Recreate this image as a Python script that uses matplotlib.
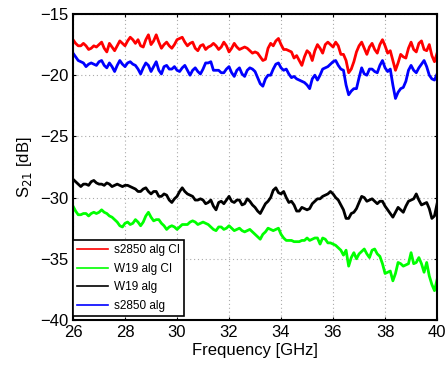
import numpy as np
import matplotlib
matplotlib.use("Agg")
import matplotlib.pyplot as plt

plt.rcParams['font.family'] = ['Liberation Sans', 'DejaVu Sans']

# frequency grid, 0.1 GHz steps from 26 to 40 GHz
freq = np.round(np.arange(26.0, 40.05, 0.1), 1)

# S21 in dB
s2850_ci = [
    -17.1, -17.4, -17.6, -17.6, -17.4, -17.6, -17.9, -17.8, -17.6, -17.7,
    -17.5, -17.3, -17.8, -18.1, -17.4, -17.7, -18.0, -17.6, -17.2, -17.4,
    -17.6, -17.2, -16.9, -17.1, -17.4, -17.1, -17.6, -17.7, -17.1, -16.7,
    -17.5, -17.2, -16.7, -17.3, -17.8, -17.5, -17.3, -17.6, -17.8, -17.5,
    -17.1, -17.0, -16.9, -17.3, -17.6, -17.4, -17.3, -17.8, -18.0, -17.6,
    -17.5, -17.9, -17.7, -17.6, -17.4, -17.6, -17.9, -17.7, -17.3, -17.6,
    -18.1, -17.8, -17.4, -17.7, -17.9, -17.8, -17.7, -17.8, -18.0, -18.2,
    -18.1, -18.2, -18.5, -18.8, -18.7, -17.8, -17.4, -17.6, -17.2, -17.0,
    -17.5, -17.9, -17.9, -18.0, -18.1, -18.6, -18.4, -18.8, -19.2, -18.5,
    -18.0, -18.2, -18.8, -18.0, -17.5, -17.8, -18.2, -17.5, -17.3, -17.5,
    -17.7, -17.3, -17.6, -18.3, -18.3, -18.8, -19.8, -19.5, -18.9, -18.1,
    -17.6, -17.3, -17.8, -18.3, -17.7, -17.4, -17.9, -18.2, -17.5, -17.1,
    -17.6, -18.2, -18.0, -18.8, -19.6, -19.0, -18.3, -18.5, -18.6, -17.8,
    -17.3, -17.9, -18.1, -17.4, -17.2, -17.9, -18.0, -17.5, -18.4, -18.9,
    -18.2]

w19_ci = [
    -30.7, -31.1, -31.4, -31.4, -31.3, -31.3, -31.5, -31.3, -31.2, -31.3,
    -31.2, -31.0, -31.2, -31.3, -31.5, -31.6, -31.8, -32.0, -32.3, -32.4,
    -32.1, -32.0, -32.2, -32.1, -31.8, -32.0, -32.3, -32.0, -31.5, -31.2,
    -31.6, -31.9, -31.8, -31.8, -32.1, -32.3, -32.6, -32.4, -32.3, -32.4,
    -32.6, -32.4, -32.2, -32.2, -32.2, -32.0, -31.9, -32.0, -32.2, -32.1,
    -32.0, -32.1, -32.2, -32.4, -32.6, -32.7, -32.4, -32.4, -32.6, -32.5,
    -32.3, -32.5, -32.7, -32.6, -32.5, -32.7, -32.8, -32.7, -32.6, -32.8,
    -33.0, -33.2, -33.4, -33.0, -32.8, -32.5, -32.6, -32.7, -32.6, -32.5,
    -33.0, -33.3, -33.5, -33.5, -33.5, -33.6, -33.6, -33.6, -33.5, -33.5,
    -33.3, -33.5, -33.4, -33.3, -33.3, -33.8, -33.3, -33.4, -33.7, -33.7,
    -33.8, -33.9, -34.1, -34.3, -34.7, -34.3, -35.6, -34.9, -34.5, -35.0,
    -34.6, -34.4, -34.2, -34.6, -34.9, -34.3, -34.2, -34.6, -34.8, -35.4,
    -36.2, -36.1, -36.0, -36.8, -36.2, -35.3, -35.4, -35.6, -35.5, -35.4,
    -34.5, -35.4, -35.3, -34.9, -35.4, -36.1, -35.3, -36.4, -37.1, -37.6,
    -36.7]

w19 = [
    -28.5, -28.7, -28.9, -29.1, -28.9, -28.9, -29.0, -28.7, -28.6, -28.8,
    -28.9, -28.9, -29.0, -28.8, -28.9, -29.1, -29.0, -28.9, -29.0, -29.1,
    -29.0, -29.0, -29.1, -29.2, -29.3, -29.5, -29.5, -29.3, -29.2, -29.5,
    -29.7, -29.5, -29.5, -29.9, -29.9, -29.7, -29.8, -30.2, -30.4, -30.1,
    -29.9, -29.5, -29.2, -29.5, -29.7, -29.8, -29.9, -30.2, -30.2, -30.1,
    -30.2, -30.5, -30.4, -30.2, -30.7, -31.0, -30.4, -30.3, -30.5, -30.2,
    -29.9, -30.3, -30.4, -30.2, -30.2, -30.6, -30.5, -30.1, -30.3, -30.6,
    -30.8, -31.1, -31.3, -30.9, -30.5, -30.3, -30.0, -29.4, -29.2, -29.6,
    -29.7, -29.5, -30.0, -30.4, -30.3, -30.6, -31.1, -31.1, -30.8, -30.9,
    -31.0, -30.9, -30.5, -30.3, -30.1, -30.1, -29.9, -29.8, -29.7, -29.5,
    -29.7, -30.0, -30.2, -30.6, -31.0, -31.7, -31.7, -31.3, -31.2, -30.9,
    -30.4, -29.9, -30.0, -30.3, -30.2, -30.1, -30.3, -30.5, -30.3, -30.3,
    -30.7, -31.0, -31.3, -31.6, -31.2, -30.8, -31.0, -31.2, -30.7, -30.3,
    -30.2, -30.1, -29.7, -30.2, -30.6, -30.5, -30.4, -30.9, -31.7, -31.5,
    -30.5]

s2850 = [
    -18.2, -18.5, -18.8, -18.9, -19.0, -19.3, -19.1, -19.0, -19.1, -19.2,
    -18.9, -18.8, -19.2, -19.4, -19.0, -19.3, -19.7, -19.2, -18.8, -19.1,
    -19.3, -19.0, -18.9, -19.1, -19.2, -19.5, -19.9, -19.4, -19.0, -19.2,
    -19.7, -19.3, -18.9, -19.6, -19.9, -19.3, -19.2, -19.5, -19.5, -19.3,
    -19.6, -19.7, -19.4, -19.2, -19.6, -20.0, -19.6, -19.4, -19.7, -19.9,
    -19.5, -19.0, -19.0, -18.9, -19.6, -19.6, -19.6, -19.8, -19.8, -19.5,
    -19.3, -19.8, -20.1, -19.6, -19.4, -19.9, -20.1, -19.6, -19.4, -19.5,
    -19.7, -20.2, -20.7, -20.9, -20.3, -20.0, -20.0, -19.5, -19.1, -19.0,
    -19.4, -19.6, -19.5, -19.9, -20.2, -20.1, -20.3, -20.4, -20.5, -20.6,
    -20.8, -21.1, -20.3, -20.0, -20.4, -20.0, -19.5, -19.4, -19.3, -19.1,
    -18.9, -18.8, -19.2, -19.5, -19.6, -20.8, -21.6, -21.3, -21.1, -21.1,
    -20.2, -19.4, -19.9, -20.0, -19.5, -19.5, -19.7, -19.8, -19.2, -18.8,
    -19.4, -19.7, -19.5, -20.8, -21.9, -21.4, -21.1, -21.0, -20.5, -19.6,
    -19.2, -19.6, -19.8, -19.4, -19.1, -18.8, -19.3, -20.0, -20.3, -20.4,
    -19.9]

labels = ['s2850 alg CI', 'W19 alg CI', 'W19 alg', 's2850 alg']
colors = ['#ff0000', '#00ff00', '#000000', '#0000ff']

fig = plt.figure(figsize=(4.46, 3.69), dpi=100)
ax = fig.add_axes([0.1637, 0.1328, 0.8163, 0.8293])

for ys, lab, col in zip([s2850_ci, w19_ci, w19, s2850], labels, colors):
    ax.plot(freq, ys, color=col, lw=2, label=lab)

ax.set_xlim(26, 40)
ax.set_ylim(-40, -15)
ax.set_xticks(np.arange(26, 41, 2))
ax.set_yticks(np.arange(-40, -14, 5))
ax.grid(True, color='#aaaaaa', linestyle=(0, (1, 2.5)), lw=0.8)
ax.tick_params(direction='in', top=True, right=True, labelsize=12, length=2.5, width=0.8)
for sp in ax.spines.values():
    sp.set_linewidth(1.5)

ax.set_xlabel('Frequency [GHz]', fontsize=12, labelpad=2)
ax.set_ylabel('S$_{21}$ [dB]', fontsize=12, labelpad=4)

leg = ax.legend(loc='lower left', bbox_to_anchor=(0.0, 0.013), fontsize=8.5,
                fancybox=False, framealpha=1, edgecolor='black',
                handlelength=2.6, handletextpad=0.5, borderpad=0.35,
                labelspacing=0.55, borderaxespad=0)
leg.get_frame().set_linewidth(1.2)
for h in leg.get_lines():
    h.set_linewidth(1.2)

fig.savefig('out.png', dpi=100)
